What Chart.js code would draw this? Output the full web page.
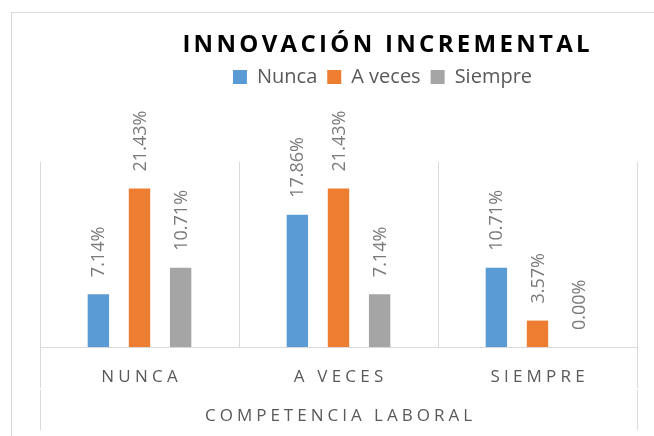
<!DOCTYPE html>
<html>
<head>
<meta charset="utf-8">
<script src="https://cdn.jsdelivr.net/npm/chart.js@4.4.1/dist/chart.umd.min.js"></script>
<style>
  html, body { margin: 0; padding: 0; background: #fff; overflow: hidden; width: 654px; height: 436px; }
  .marco { position: absolute; left: 11px; top: 12px; width: 750px; height: 440px; border: 1px solid #d9d9d9; }
  canvas { display: block; }
</style>
</head>
<body>
<div class="marco"><canvas id="grafico" width="750" height="440"></canvas></div>
<script>
// --- datos ---
const TITULO = 'INNOVACIÓN INCREMENTAL';
const TITULO_EJE = 'COMPETENCIA LABORAL';
const categorias = ['NUNCA', 'A VECES', 'SIEMPRE'];
const series = ['Nunca', 'A veces', 'Siempre'];
const valNunca = [7.14, 17.86, 10.71];
const valAveces = [21.43, 21.43, 3.57];
const valSiempre = [10.71, 7.14, 0.00];
const colores = ['#5b9bd5', '#ed7d31', '#a5a5a5'];

const GRIS_LINEA = '#d9d9d9';
const GRIS_TEXTO = '#595959';

// texto con espaciado entre letras, centrado
function textoEspaciado(ctx, txt, x, y, esp) {
  ctx.letterSpacing = esp + 'px';
  ctx.fillText(txt, x + esp / 2, y);
  ctx.letterSpacing = '0px';
}

const decorado = {
  id: 'decorado',
  afterDatasetsDraw(chart) {
    const ctx = chart.ctx;
    ctx.save();
    ctx.fillStyle = '#7a7a7a';
    ctx.font = '18px "Open Sans"';
    ctx.textAlign = 'left';
    ctx.textBaseline = 'middle';
    chart.data.datasets.forEach((ds, i) => {
      chart.getDatasetMeta(i).data.forEach((bar, j) => {
        ctx.save();
        ctx.translate(bar.x, bar.y - 17);
        ctx.rotate(-Math.PI / 2);
        ctx.fillText(ds.data[j].toFixed(2) + '%', 0, 1);
        ctx.restore();
      });
    });
    ctx.restore();
  },
  afterDraw(chart) {
    const { ctx, chartArea: a } = chart;
    const x = chart.scales.x;
    ctx.save();

    // titulo
    ctx.fillStyle = '#000';
    ctx.font = 'bold 24px "Open Sans"';
    ctx.textAlign = 'center';
    ctx.textBaseline = 'alphabetic';
    textoEspaciado(ctx, TITULO, chart.width / 2 - 1, 39, 3.3);

    // etiquetas de categoria
    ctx.fillStyle = GRIS_TEXTO;
    ctx.font = '17px "Open Sans"';
    categorias.forEach((c, i) => {
      textoEspaciado(ctx, c, x.getPixelForValue(i), 369, 4.2);
    });

    // titulo del eje (segundo nivel)
    textoEspaciado(ctx, TITULO_EJE, (a.left + a.right) / 2, 408, 4);

    // lineas del eje multinivel
    ctx.strokeStyle = GRIS_LINEA;
    ctx.lineWidth = 1;
    [a.left, a.right].forEach(px => {
      const xx = Math.round(px) + 0.5;
      ctx.beginPath();
      ctx.moveTo(xx, a.bottom);
      ctx.lineTo(xx, a.bottom + 41);
      ctx.moveTo(xx, a.bottom + 43);
      ctx.lineTo(xx, a.bottom + 83);
      ctx.stroke();
    });
    ctx.restore();
  }
};

const ctx = document.getElementById('grafico').getContext('2d');
new Chart(ctx, {
  type: 'bar',
  data: {
    labels: categorias,
    datasets: [
      { label: series[0], data: valNunca, backgroundColor: colores[0], xAxisID: 'x', yAxisID: 'y' },
      { label: series[1], data: valAveces, backgroundColor: colores[1], xAxisID: 'x', yAxisID: 'y' },
      { label: series[2], data: valSiempre, backgroundColor: colores[2], xAxisID: 'x', yAxisID: 'y' }
    ]
  },
  options: {
    responsive: false,
    animation: false,
    datasets: { bar: { categoryPercentage: 0.62, barPercentage: 0.52 } },
    layout: { padding: { left: 28, right: 37, top: 44, bottom: 0 } },
    plugins: {
      title: { display: false },
      tooltip: { enabled: false },
      legend: {
        position: 'top',
        labels: {
          boxWidth: 14,
          boxHeight: 14,
          padding: 10,
          color: GRIS_TEXTO,
          font: { family: '"Open Sans"', size: 20 }
        }
      }
    },
    scales: {
      x: {
        grid: { color: GRIS_LINEA, drawTicks: false, offset: true },
        border: { display: true, color: GRIS_LINEA },
        ticks: { display: false },
        afterFit: s => { s.height = 106; }
      },
      y: { display: false, min: 0, max: 25 },
      // ejes vacios solo para reservar espacio
      arriba: {
        type: 'linear', axis: 'x', position: 'top',
        grid: { display: false }, border: { display: false }, ticks: { display: false },
        afterFit: s => { s.height = 65; }
      },
      derecha: {
        type: 'linear', axis: 'y', position: 'right',
        grid: { display: false }, border: { display: false }, ticks: { display: false },
        afterFit: s => { s.width = 88; }
      }
    }
  },
  plugins: [decorado]
});
</script>
</body>
</html>
